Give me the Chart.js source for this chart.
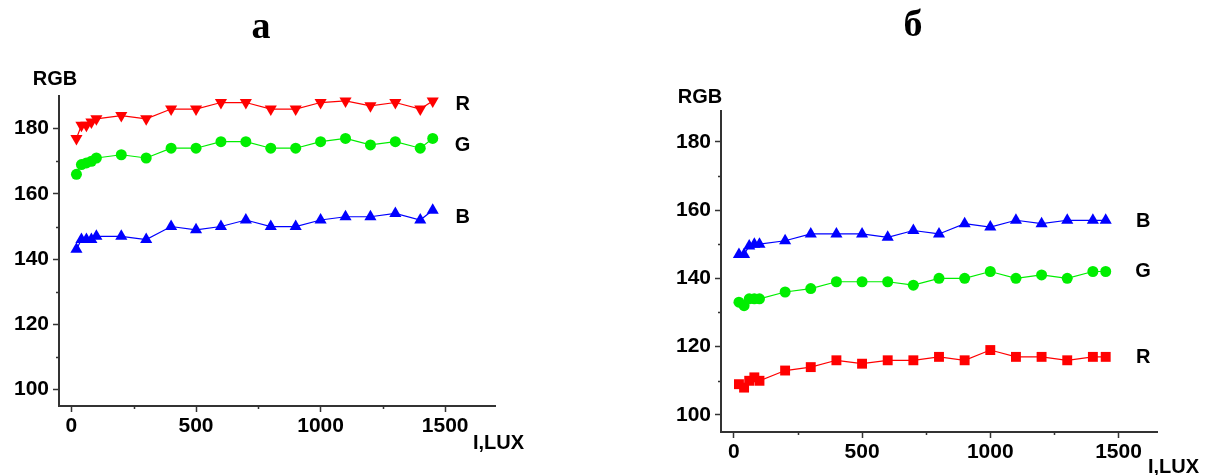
<!DOCTYPE html>
<html>
<head>
<meta charset="utf-8">
<script src="https://cdn.jsdelivr.net/npm/chart.js@4/dist/chart.umd.min.js"></script>
<style>
  html, body { margin: 0; padding: 0; background: #fff; }
  body { width: 1207px; height: 475px; position: relative; overflow: hidden; }
  .box { position: absolute; top: 0; height: 475px; }
  #boxA { left: 0; width: 600px; }
  #boxB { left: 600px; width: 607px; }
</style>
</head>
<body>
<div class="box" id="boxA"><canvas id="chartA"></canvas></div>
<div class="box" id="boxB"><canvas id="chartB"></canvas></div>
<script>
// ---- data ----
const lux = [20, 40, 60, 80, 100, 200, 300, 400, 500, 600, 700, 800, 900, 1000, 1100, 1200, 1300, 1400, 1450];

// panel "а"
const rA = [177, 181, 181, 182, 183, 184, 183, 186, 186, 188, 188, 186, 186, 188, 188.5, 187, 188, 186, 188.5];
const gA = [166, 169, 169.5, 170, 171, 172, 171, 174, 174, 176, 176, 174, 174, 176, 177, 175, 176, 174, 177];
const bA = [143, 146, 146, 146, 147, 147, 146, 150, 149, 150, 152, 150, 150, 152, 153, 153, 154, 152, 155];

// panel "б"
const bB = [147, 147, 149.5, 150, 150, 151, 153, 153, 153, 152, 154, 153, 156, 155, 157, 156, 157, 157, 157];
const gB = [133, 132, 134, 134, 134, 136, 137, 139, 139, 139, 138, 140, 140, 142, 140, 141, 140, 142, 142];
const rB = [109, 108, 110, 111, 110, 113, 114, 116, 115, 116, 116, 117, 116, 119, 117, 117, 116, 117, 117];

// ticks
const yTicks = [100, 120, 140, 160, 180];
const yMinor = [110, 130, 150, 170];
const xTicks = [0, 500, 1000, 1500];
const xMinor = [250, 750, 1250];

// labels
const panelTitles = ['а', 'б'];
const yTitle = 'RGB';
const xTitle = 'I,LUX';

const RED = '#ff0000', GREEN = '#00ee00', BLUE = '#0000ff';
const AXIS = '#333333';
const FONT = '"Liberation Sans", Arial, sans-serif';

function pts(ys) { return lux.map((x, i) => ({ x: x, y: ys[i] })); }

function ds(label, ys, color, style, rot, radius) {
  return {
    label: label,
    data: pts(ys),
    borderColor: color,
    backgroundColor: color,
    borderWidth: 1.2,
    pointStyle: style,
    rotation: rot,
    pointRadius: radius,
    pointBorderWidth: 0,
    pointBackgroundColor: color,
    showLine: true,
    tension: 0,
    clip: false
  };
}

const minorTicksPlugin = {
  id: 'minorTicks',
  afterDraw(chart) {
    const ctx = chart.ctx;
    const xs = chart.scales.x, ys = chart.scales.y;
    const ca = chart.chartArea;
    ctx.save();
    ctx.strokeStyle = AXIS;
    ctx.lineWidth = 1.5;
    ctx.beginPath();
    yMinor.forEach(v => {
      const p = Math.round(ys.getPixelForValue(v)) + 0.5;
      ctx.moveTo(ca.left - 3, p); ctx.lineTo(ca.left, p);
    });
    xMinor.forEach(v => {
      const p = Math.round(xs.getPixelForValue(v)) + 0.5;
      ctx.moveTo(p, ca.bottom); ctx.lineTo(p, ca.bottom + 3);
    });
    ctx.stroke();
    ctx.restore();
  }
};

const textPlugin = {
  id: 'texts',
  afterDraw(chart, args, opts) {
    const ctx = chart.ctx;
    const xs = chart.scales.x, ys = chart.scales.y;
    ctx.save();
    ctx.fillStyle = '#000';
    ctx.textBaseline = 'middle';
    ctx.textAlign = 'center';
    // panel title
    ctx.font = 'bold 38px "Liberation Serif", "Times New Roman", serif';
    ctx.fillText(opts.title, opts.titleX, opts.titleY);
    // axis titles
    ctx.font = 'bold 20px ' + FONT;
    ctx.fillText(yTitle, opts.yTitleX, opts.yTitleY);
    ctx.textAlign = 'left';
    ctx.fillText(xTitle, opts.xTitleX, opts.xTitleY);
    // series labels
    ctx.textAlign = 'center';
    opts.series.forEach(s => {
      ctx.fillText(s.t, xs.getPixelForValue(opts.seriesX), ys.getPixelForValue(s.y));
    });
    ctx.restore();
  }
};

function makeChart(id, datasets, geo, textOpts) {
  return new Chart(document.getElementById(id), {
    type: 'line',
    data: { datasets: datasets },
    plugins: [minorTicksPlugin, textPlugin],
    options: {
      responsive: true,
      maintainAspectRatio: false,
      animation: false,
      layout: { padding: { left: geo.padLeft, right: geo.padRight, top: geo.padTop, bottom: 0 } },
      plugins: {
        legend: { display: false },
        tooltip: { enabled: false },
        texts: textOpts
      },
      scales: {
        x: {
          type: 'linear',
          min: -50, max: geo.xMax,
          afterBuildTicks: s => { s.ticks = xTicks.map(v => ({ value: v })); },
          afterFit: s => { s.height = geo.xHeight; },
          grid: { display: true, drawOnChartArea: false, drawTicks: true, tickLength: 6, tickWidth: 1.5, tickColor: AXIS },
          border: { display: true, color: AXIS, width: 2 },
          ticks: { color: '#000', font: { family: FONT, size: 21, weight: 'bold' }, padding: 2, maxRotation: 0, autoSkip: false,
                   callback: v => String(v) }
        },
        y: {
          type: 'linear',
          min: 95, max: geo.yMax,
          afterBuildTicks: s => { s.ticks = yTicks.map(v => ({ value: v })); },
          afterFit: s => { s.width = geo.yWidth; },
          grid: { display: true, drawOnChartArea: false, drawTicks: true, tickLength: 6, tickWidth: 1.5, tickColor: AXIS },
          border: { display: true, color: AXIS, width: 2 },
          ticks: { color: '#000', font: { family: FONT, size: 21, weight: 'bold' }, padding: 4, autoSkip: false,
                   callback: v => String(v) }
        }
      }
    }
  });
}

// Panel а
makeChart('chartA', [
  ds('R', rA, RED, 'triangle', 180, 7),
  ds('G', gA, GREEN, 'circle', 0, 5.5),
  ds('B', bA, BLUE, 'triangle', 0, 7)
], { padLeft: 0, padRight: 105, padTop: 96, xHeight: 69, yWidth: 59, xMax: 1700, yMax: 190 },
{ title: panelTitles[0], titleX: 261, titleY: 28, yTitleX: 55, yTitleY: 79, xTitleX: 473, xTitleY: 443,
  seriesX: 1570, series: [{ t: 'R', y: 187.5 }, { t: 'G', y: 174.7 }, { t: 'B', y: 152.7 }] });

// Panel б
makeChart('chartB', [
  ds('B', bB, BLUE, 'triangle', 0, 7),
  ds('G', gB, GREEN, 'circle', 0, 5.5),
  ds('R', rB, RED, 'rect', 0, 7)
], { padLeft: 0, padRight: 50, padTop: 111, xHeight: 43, yWidth: 121, xMax: 1650, yMax: 189 },
{ title: panelTitles[1], titleX: 313, titleY: 26, yTitleX: 100, yTitleY: 97, xTitleX: 548, xTitleY: 467,
  seriesX: 1596, series: [{ t: 'B', y: 156.6 }, { t: 'G', y: 141.9 }, { t: 'R', y: 116.7 }] });
</script>
</body>
</html>
